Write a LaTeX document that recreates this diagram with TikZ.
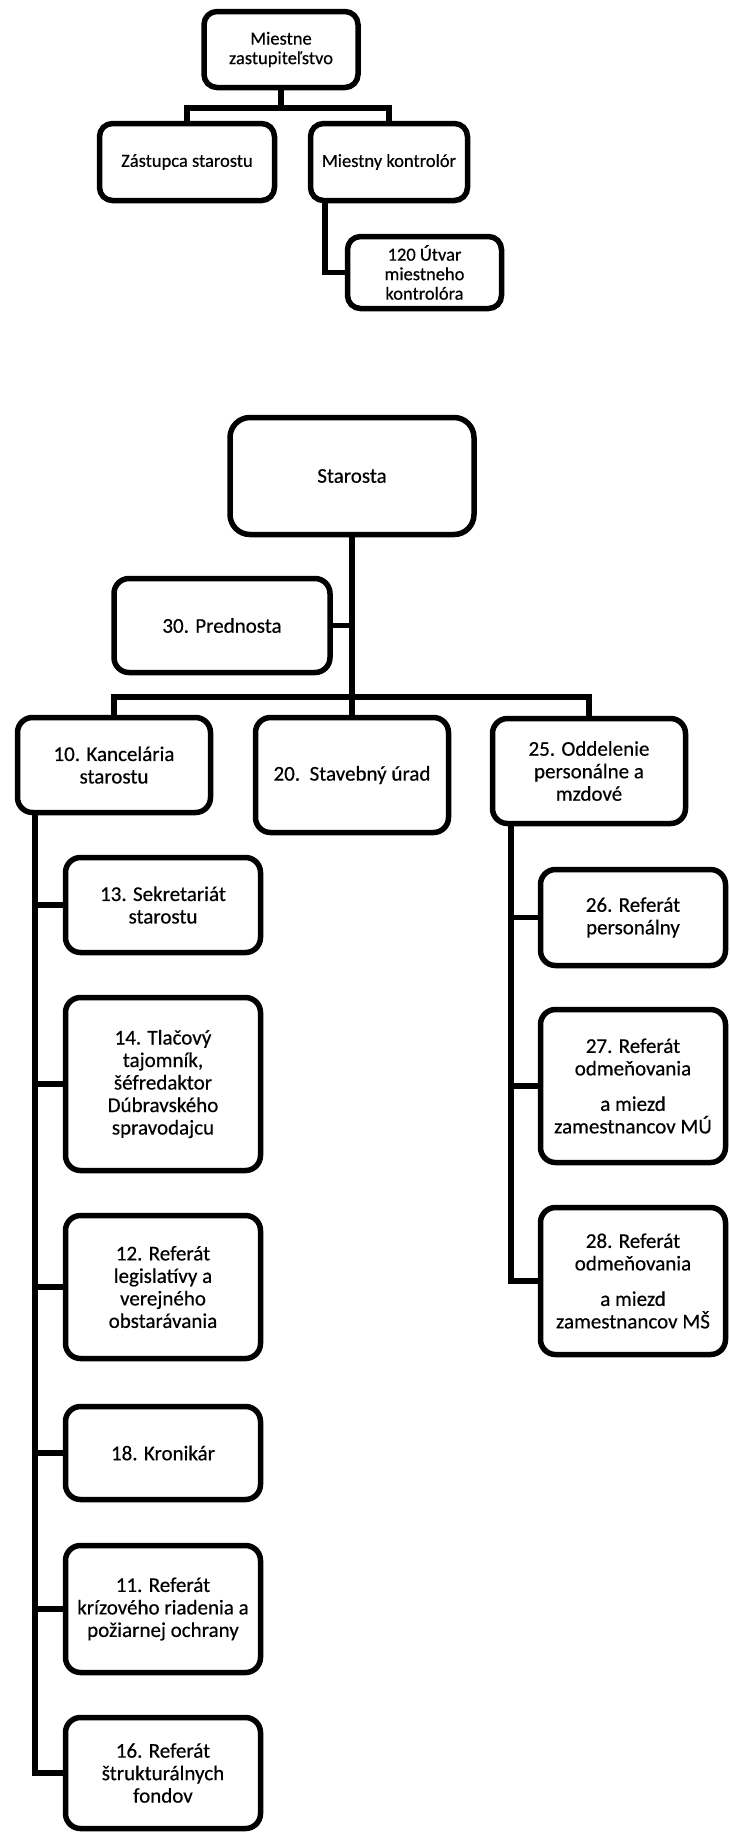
\documentclass[tikz,border=0pt]{standalone}
\usepackage{fontspec}
\setmainfont{Carlito}[BoldFont=Carlito, BoldFeatures={FakeBold=0.4}]
\tikzset{
  unit/.style={draw, line width=5.5pt, rounded corners=15pt, align=center, inner sep=2pt, fill=white,
    font=\fontsize{21}{22.5}\selectfont\bfseries},
  smallunit/.style={unit, rounded corners=13pt, font=\fontsize{18.5}{19.5}\selectfont\bfseries},
  link/.style={line width=5.5pt}
}
\begin{document}
\begin{tikzpicture}[x=1pt,y=-1pt]
\useasboundingbox (0,0) rectangle (729,1832);
\node[smallunit, minimum width=154pt, minimum height=76pt] (zast) at (281,49.5) {Miestne\\zastupiteľstvo};
\node[smallunit, minimum width=175pt, minimum height=77pt] (zastup) at (187,162) {Zástupca starostu};
\node[smallunit, minimum width=157pt, minimum height=77pt] (kontr) at (389,162) {Miestny kontrolór};
\node[smallunit, minimum width=154pt, minimum height=72pt] (utvar) at (424.5,272.5) {120 Útvar\\miestneho\\kontrolóra};
\coordinate (topbar) at (281,108);
\draw[link] (zast.south) -- (topbar);
\draw[link] (zastup.north) |- (topbar) -| (kontr.north);
\draw[link] ([xshift=-64pt]kontr.south) |- (utvar.west);

\node[unit, rounded corners=20pt, minimum width=244pt, minimum height=117pt] (star) at (352,476) {Starosta};
\node[unit, minimum width=216pt, minimum height=94pt] (pred) at (222,625.5) {30. Prednosta};
\node[unit, minimum width=193pt, minimum height=95pt] (kanc) at (114,765) {10. Kancelária\\starostu};
\node[unit, minimum width=193pt, minimum height=115pt] (stav) at (352,775) {20.\ \ Stavebný úrad};
\node[unit, minimum width=193pt, minimum height=105pt] (odd) at (589,771) {25. Oddelenie\\personálne a\\mzdové};
\coordinate (bar) at (352,697);
\draw[link] (star.south) -- (stav.north);
\draw[link] (pred.east) -- (pred.east -| star.south);
\draw[link] (kanc.north) |- (bar) -| (odd.north);

\node[unit, minimum width=195pt, minimum height=95pt] (r13) at (163,905) {13. Sekretariát\\starostu};
\node[unit, minimum width=195pt, minimum height=173pt] (r14) at (163,1084) {14. Tlačový\\tajomník,\\šéfredaktor\\Dúbravského\\spravodajcu};
\node[unit, minimum width=195pt, minimum height=143pt] (r12) at (163,1287) {12. Referát\\legislatívy a\\verejného\\obstarávania};
\node[unit, minimum width=195pt, minimum height=93pt] (r18) at (163,1453) {18. Kronikár};
\node[unit, minimum width=195pt, minimum height=127pt] (r11) at (163,1609) {11. Referát\\krízového riadenia a\\požiarnej ochrany};
\node[unit, minimum width=195pt, minimum height=111pt] (r16) at (163,1773) {16. Referát\\štrukturálnych\\fondov};
\coordinate (ktrunk) at ([xshift=20pt]kanc.south west);
\draw[link] (ktrunk) |- (r16.west);
\draw[link] (ktrunk |- r13.west) -- (r13.west);
\draw[link] (ktrunk |- r14.west) -- (r14.west);
\draw[link] (ktrunk |- r12.west) -- (r12.west);
\draw[link] (ktrunk |- r18.west) -- (r18.west);
\draw[link] (ktrunk |- r11.west) -- (r11.west);

\node[unit, minimum width=185pt, minimum height=96pt] (r26) at (633,917.5) {26. Referát\\personálny};
\node[unit, minimum width=185pt, minimum height=153pt] (r27) at (633,1086) {27. Referát\\odmeňovania\\[13pt]a miezd\\zamestnancov MÚ};
\node[unit, minimum width=185pt, minimum height=147pt] (r28) at (633,1281) {28. Referát\\odmeňovania\\[13pt]a miezd\\zamestnancov MŠ};
\coordinate (otrunk) at ([xshift=21pt]odd.south west);
\draw[link] (otrunk) |- (r28.west);
\draw[link] (otrunk |- r26.west) -- (r26.west);
\draw[link] (otrunk |- r27.west) -- (r27.west);
\end{tikzpicture}
\end{document}
